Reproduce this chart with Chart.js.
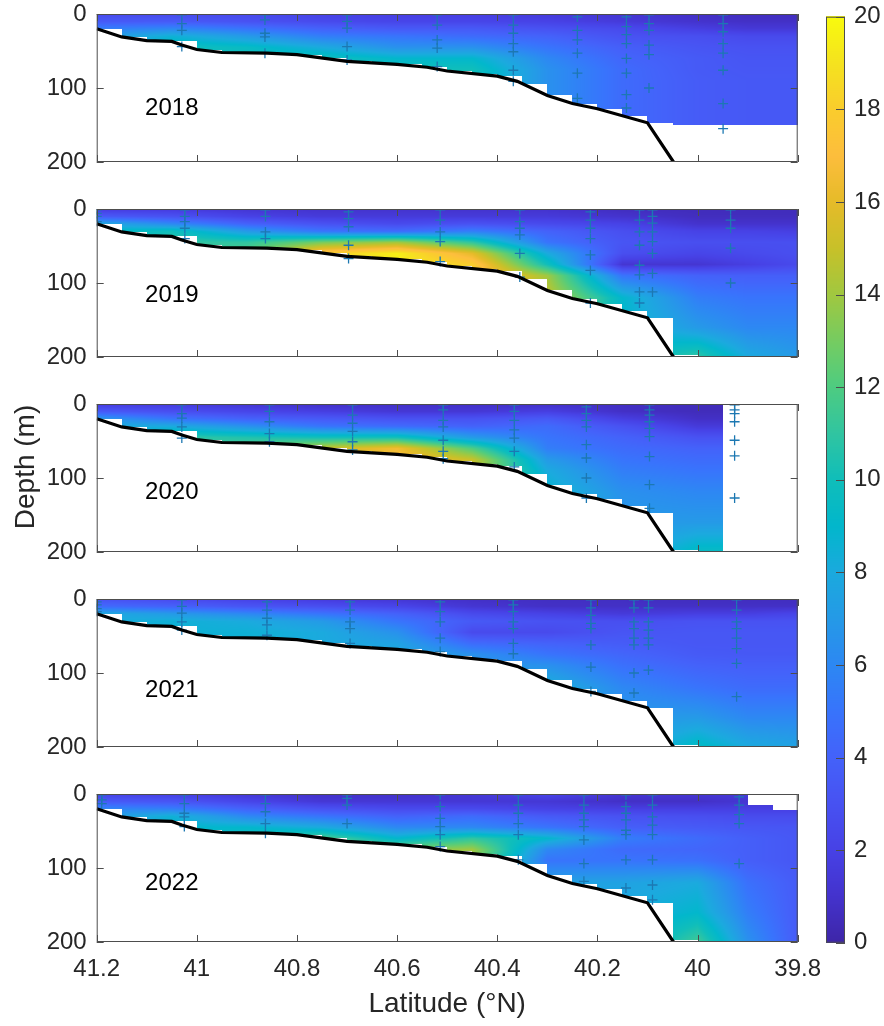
<!DOCTYPE html>
<html>
<head>
<meta charset="utf-8">
<script src="https://cdn.jsdelivr.net/npm/chart.js@4.4.1/dist/chart.umd.min.js"></script>
<style>
    html, body { margin: 0; padding: 0; background: #fff; }
    #wrap { position: relative; width: 884px; height: 1026px; overflow: hidden; font-family: "Liberation Sans", Arial, sans-serif; }
    #wrap canvas { position: absolute; left: 0; }
    #ylabel { position: absolute; left: -75px; top: 452px; width: 200px; height: 30px; line-height: 30px;
              text-align: center; font-size: 28px; color: #262626; transform: rotate(-90deg); white-space: nowrap; }
</style>
</head>
<body>
<div id="wrap">
    <canvas id="p0" width="884" height="199" style="top:-11px"></canvas>
    <canvas id="p1" width="884" height="199" style="top:184px"></canvas>
    <canvas id="p2" width="884" height="199" style="top:379px"></canvas>
    <canvas id="p3" width="884" height="199" style="top:574px"></canvas>
    <canvas id="p4" width="884" height="257" style="top:769px"></canvas>
    <canvas id="cbar" width="84" height="1033" style="left:800px;top:-7px"></canvas>
    <div id="ylabel">Depth (m)</div>
</div>
<script>
// ---- data ----
const years = ["2018", "2019", "2020", "2021", "2022"];

// gridded field: rows = depthGrid, columns = latGrid
const latGrid = [41.2, 41.05, 40.9, 40.75, 40.6, 40.45, 40.3, 40.15, 40.0, 39.9, 39.8];
const depthGrid = [0, 10, 20, 30, 45, 60, 75, 90, 120, 160, 200];

const field2018 = [
    [2.5, 2.5, 2.5, 2, 1.8, 1.8, 1.5, 1.2, 0.8, 0.6, 0.6],
    [3.5, 3.5, 3, 2.5, 2.2, 2.2, 2, 1.5, 1, 0.8, 0.8],
    [5.5, 6, 5, 4, 3.5, 3.5, 3, 2.5, 1.8, 1.4, 1.4],
    [7, 8.5, 7, 5.5, 5, 4.5, 4, 3, 2.8, 2.5, 2.5],
    [7, 10, 9.5, 8, 6.5, 6.5, 5, 3.8, 3.2, 3, 3],
    [7, 10, 10, 10, 9, 9, 6, 4.2, 3.5, 3.2, 3.2],
    [7, 10, 10, 10, 10, 10, 6.5, 4.5, 3.5, 3.3, 3.3],
    [7, 10, 10, 10, 10, 10, 6.5, 4.5, 3.6, 3.4, 3.4],
    [7, 10, 10, 10, 10, 10, 6.5, 4.5, 3.6, 3.4, 3.4],
    [7, 10, 10, 10, 10, 10, 6.5, 4.5, 3.6, 3.4, 3.4],
    [7, 10, 10, 10, 10, 10, 6.5, 4.5, 3.6, 3.4, 3.4]
];
const field2019 = [
    [1.5, 1.5, 1.2, 1, 1, 1, 1, 0.6, 0.5, 0.5, 0.5],
    [3.5, 3, 2, 1.5, 1.5, 1.5, 1.5, 1, 0.6, 0.6, 0.6],
    [8, 6, 4, 3, 2.5, 3, 2.5, 2, 1, 1, 1],
    [9, 10, 7, 5, 4.5, 5.5, 4, 2.8, 2, 2, 1.8],
    [9, 11, 11, 13, 14, 11, 5, 3.2, 2.8, 2.8, 2.8],
    [9, 11, 12, 18, 19.5, 16, 8, 2.8, 2.2, 2.5, 2.8],
    [9, 11, 12, 18, 19.5, 18, 10, 1.2, 1.2, 1.8, 2.5],
    [9, 11, 12, 18, 19.5, 18, 14, 5, 4, 3.8, 3.8],
    [9, 11, 12, 18, 19.5, 18, 15, 9, 5.5, 5, 5],
    [9, 11, 12, 18, 19.5, 18, 15, 9, 7, 6, 6],
    [9, 11, 12, 18, 19.5, 18, 15, 9, 11, 8, 7]
];
const field2020 = [
    [1.5, 1.5, 1.2, 0.8, 0.8, 0.8, 0.8, 0.7, 0.5, 0.5, 0.5],
    [3.5, 2.8, 2.2, 1.8, 1.3, 1.3, 1.8, 0.8, 0.5, 0.5, 0.5],
    [7, 5, 4, 3.5, 3, 3, 3.5, 1.8, 0.8, 0.8, 0.8],
    [8, 8, 6.5, 5, 4.5, 4, 4.5, 3, 1.5, 1.5, 1.5],
    [8, 11, 10.5, 10, 10, 7, 5, 4, 3, 3, 3],
    [8, 11, 12, 15, 16.5, 12, 5.5, 4.5, 4, 4, 4],
    [8, 11, 12, 15.5, 17, 15, 7, 5, 4.5, 4.5, 4.5],
    [8, 11, 12, 15.5, 17, 15, 8, 5.5, 5, 5, 5],
    [8, 11, 12, 15.5, 17, 15, 9, 6.5, 6, 6, 6],
    [8, 11, 12, 15.5, 17, 15, 9, 7, 7, 7, 7],
    [8, 11, 12, 15.5, 17, 15, 9, 7, 9.5, 9.5, 9.5]
];
const field2021 = [
    [3, 2.5, 2, 1.5, 1.2, 0.8, 0.7, 0.7, 0.6, 0.6, 0.6],
    [4.5, 4, 3.2, 2.8, 2.2, 1.2, 0.8, 0.8, 0.8, 0.8, 0.8],
    [8, 7, 6, 5, 4, 2.5, 2, 1.5, 1.8, 1.8, 2.2],
    [8, 8.5, 8, 7, 5, 3.5, 3, 2.8, 3, 3, 3],
    [8, 8.5, 8.5, 8, 6.5, 2.5, 2.5, 3.2, 3.3, 3.3, 3.3],
    [8, 8.5, 8.5, 8, 7.5, 4.5, 4, 3.6, 3.3, 3.3, 3.3],
    [8, 8.5, 8.5, 8, 8, 6.5, 5, 4.2, 3.5, 3.4, 3.4],
    [8, 8.5, 8.5, 8, 8, 7, 6.5, 4.8, 4, 3.8, 3.8],
    [8, 8.5, 8.5, 8, 8, 7, 8.5, 6, 5, 4.5, 4.5],
    [8, 8.5, 8.5, 8, 8, 7, 8.5, 7, 7, 6, 6],
    [8, 8.5, 8.5, 8, 8, 7, 8.5, 7, 9.5, 8, 7.5]
];
const field2022 = [
    [2, 1.8, 1.3, 0.9, 0.9, 1.3, 2.2, 1.2, 1.2, 1.5, 1.5],
    [3.5, 3.2, 2.2, 1.3, 1.3, 1.3, 1.3, 0.8, 0.8, 1.2, 1.5],
    [6, 5.5, 4, 3, 2.5, 2.5, 2, 1.8, 1.8, 1.8, 1.8],
    [7, 8.5, 6, 5, 4, 4.5, 3.5, 3, 2.8, 2.6, 2.6],
    [7, 9, 9, 8, 6, 6, 5, 3.8, 3.5, 3.3, 3.2],
    [7, 9, 10, 12, 9, 11, 9, 5.5, 4.5, 3.8, 3.3],
    [7, 9, 10, 12, 13, 14, 6, 4.5, 4.2, 3.8, 3.3],
    [7, 9, 10, 12, 13, 13.5, 5, 5, 4.8, 3.8, 3.3],
    [7, 9, 10, 12, 13, 13.5, 7.5, 7.5, 8, 4.8, 3.6],
    [7, 9, 10, 12, 13, 13.5, 7.5, 8, 9, 5.5, 3.6],
    [7, 9, 10, 12, 13, 13.5, 7.5, 8, 11.5, 6.5, 3.6]
];

// bottom topography (black line)
const bathyLat = [41.2, 41.15, 41.1, 41.05, 41.03, 41.0, 40.95, 40.86, 40.8, 40.7, 40.6, 40.54, 40.5, 40.4, 40.36, 40.3, 40.25, 40.2, 40.1, 40.048];
const bathyDepth = [20, 31, 36, 37, 42, 48, 52, 53, 55, 64, 68, 72, 77, 84, 91, 110, 121, 128, 147, 200];

// sampling stations (+ markers): latitude and sample depths
const stations2018 = [41.03, 40.864, 40.70, 40.52, 40.368, 40.24, 40.142, 40.097, 39.949];
const samples2018 = [[1, 13, 22, 44], [1, 8, 26, 31, 53], [1, 10, 19, 44, 62], [1, 15, 35, 46, 71], [1, 15, 26, 40, 51, 76, 91],
    [4, 22, 35, 53, 80, 114], [4, 17, 28, 40, 60, 80, 109, 127], [1, 13, 22, 42, 55, 100], [1, 13, 24, 40, 53, 76, 121, 155]];
const stations2019 = [41.2, 41.024, 40.863, 40.697, 40.514, 40.355, 40.214, 40.116, 40.09, 39.934];
const samples2019 = [[1, 6, 10, 17], [1, 10, 17, 26, 40], [1, 10, 31, 40], [4, 13, 24, 49, 67], [1, 15, 31, 44, 71], [1, 17, 26, 35, 60, 92],
    [4, 15, 26, 40, 62, 83, 127], [1, 15, 31, 49, 76, 89, 112, 127], [1, 10, 19, 31, 44, 60, 87, 112], [1, 15, 26, 53, 100]];
const stations2020 = [41.03, 40.855, 40.689, 40.508, 40.366, 40.222, 40.096, 39.926];
const samples2020 = [[1, 13, 19, 31, 46], [1, 10, 24, 40, 51], [1, 15, 26, 37, 51, 62], [1, 8, 22, 31, 49, 64, 74], [1, 10, 22, 35, 46, 64, 85],
    [4, 13, 22, 31, 55, 73, 100, 127], [1, 8, 15, 24, 33, 44, 71, 109, 141], [1, 8, 13, 24, 49, 70, 127]];
const stations2021 = [41.2, 41.03, 40.86, 40.694, 40.514, 40.368, 40.213, 40.127, 40.098, 39.922];
const samples2021 = [[4, 8, 13, 17], [1, 10, 19, 31, 42], [4, 15, 26, 35, 49], [4, 15, 31, 40, 60], [4, 17, 31, 53, 71], [1, 8, 17, 31, 40, 60, 74],
    [1, 12, 22, 33, 40, 62, 92, 125], [1, 12, 31, 40, 53, 62, 100, 127], [1, 12, 31, 42, 53, 62, 96], [1, 15, 31, 40, 53, 67, 87, 132]];
const stations2022 = [41.19, 41.025, 40.863, 40.70, 40.514, 40.358, 40.227, 40.143, 40.09, 39.917];
const samples2022 = [[1, 8, 13], [1, 13, 26, 31, 44], [1, 13, 24, 40, 53], [1, 6, 15, 40], [1, 17, 33, 44, 55, 71], [1, 15, 26, 40, 55, 89],
    [1, 15, 26, 35, 44, 62, 94, 118], [1, 17, 26, 35, 49, 55, 89, 127], [1, 15, 31, 42, 55, 89, 123, 143], [4, 15, 28, 40, 94]];

// extent of the gridded field in each year
const fieldDeepest = [150, 200, 200, 200, 200];
const fieldWestEdge = [39.8, 39.8, 39.95, 39.8, 39.8];
const fieldTopSteps = [[], [], [], [], [[39.9, 15], [39.85, 22]]];

const xTicks = [41.2, 41, 40.8, 40.6, 40.4, 40.2, 40, 39.8];
const yTicks = [0, 100, 200];
const cTicks = [0, 2, 4, 6, 8, 10, 12, 14, 16, 18, 20];

const FIELDS = [field2018, field2019, field2020, field2021, field2022];
const STATIONS = [stations2018, stations2019, stations2020, stations2021, stations2022];
const SAMPLES = [samples2018, samples2019, samples2020, samples2021, samples2022];

// parula colormap
const PARULA = [
    [62, 38, 168], [68, 51, 205], [71, 66, 230], [72, 82, 242], [68, 98, 250], [56, 116, 252], [45, 136, 243],
    [37, 154, 231], [27, 170, 222], [2, 183, 204], [16, 190, 186], [49, 197, 161], [78, 204, 129], [118, 204, 97],
    [161, 200, 64], [200, 193, 41], [230, 187, 41], [253, 190, 61], [250, 205, 45], [245, 227, 31], [249, 251, 14]
];
const C_MAX = 20;
const GRID_STEP = 0.05;
const TEXT_COLOR = "#262626";
const FRAME_COLOR = "#4d4d4d";
const FONT = "'Liberation Sans', Arial, sans-serif";

function parula(t) {
    t = Math.max(0, Math.min(1, t)) * (PARULA.length - 1);
    const i = Math.min(PARULA.length - 2, Math.floor(t));
    const f = t - i;
    const a = PARULA[i], b = PARULA[i + 1];
    return [a[0] + (b[0] - a[0]) * f, a[1] + (b[1] - a[1]) * f, a[2] + (b[2] - a[2]) * f];
}

function clamp01(v) { return Math.max(0, Math.min(1, v)); }

function sampleField(grid, lat, d) {
    let i = 0;
    while (i < latGrid.length - 2 && lat < latGrid[i + 1]) i++;
    let j = 0;
    while (j < depthGrid.length - 2 && d > depthGrid[j + 1]) j++;
    const tx = clamp01((latGrid[i] - lat) / (latGrid[i] - latGrid[i + 1]));
    const ty = clamp01((d - depthGrid[j]) / (depthGrid[j + 1] - depthGrid[j]));
    const top = grid[j][i] * (1 - tx) + grid[j][i + 1] * tx;
    const bot = grid[j + 1][i] * (1 - tx) + grid[j + 1][i + 1] * tx;
    return top * (1 - ty) + bot * ty;
}

function bathyAt(lat) {
    if (lat >= bathyLat[0]) return bathyDepth[0];
    for (let k = 0; k < bathyLat.length - 1; k++) {
        if (lat <= bathyLat[k] && lat >= bathyLat[k + 1]) {
            const f = (bathyLat[k] - lat) / (bathyLat[k] - bathyLat[k + 1]);
            return bathyDepth[k] + (bathyDepth[k + 1] - bathyDepth[k]) * f;
        }
    }
    return 1e9;
}

function inField(p, lat, d) {
    if (lat < fieldWestEdge[p] - 1e-9) return false;
    let top = 2;
    fieldTopSteps[p].forEach(s => { if (lat < s[0]) top = s[1]; });
    if (d < top) return false;
    const k = Math.floor((latGrid[0] - lat) / GRID_STEP + 1e-6);
    const north = latGrid[0] - k * GRID_STEP;
    return d <= Math.min(bathyAt(north), fieldDeepest[p]);
}

const fieldPlugin = {
    id: "field",
    beforeDatasetsDraw(chart, args, opts) {
        const p = opts.panel;
        const { ctx, chartArea: a, scales: { x, y } } = chart;
        const x0 = Math.round(a.left), y0 = Math.round(a.top);
        const w = Math.round(a.right) - x0, h = Math.round(a.bottom) - y0;
        const img = ctx.createImageData(w, h);
        for (let py = 0; py < h; py++) {
            const d = y.getValueForPixel(y0 + py + 0.5);
            for (let px = 0; px < w; px++) {
                const lat = x.getValueForPixel(x0 + px + 0.5);
                if (!inField(p, lat, d)) continue;
                const c = parula(sampleField(FIELDS[p], lat, d) / C_MAX);
                const k = (py * w + px) * 4;
                img.data[k] = c[0]; img.data[k + 1] = c[1]; img.data[k + 2] = c[2]; img.data[k + 3] = 255;
            }
        }
        const off = document.createElement("canvas");
        off.width = w; off.height = h;
        off.getContext("2d").putImageData(img, 0, 0);
        ctx.drawImage(off, x0, y0);
    },
    afterDraw(chart, args, opts) {
        const { ctx, chartArea: a, scales: { x, y } } = chart;
        ctx.save();
        // year label
        ctx.fillStyle = "#000";
        ctx.font = "24px " + FONT;
        ctx.textAlign = "center";
        ctx.textBaseline = "middle";
        ctx.fillText(years[opts.panel], x.getPixelForValue(opts.labelLat), y.getPixelForValue(opts.labelDepth));
        // box and inward ticks
        ctx.strokeStyle = FRAME_COLOR;
        ctx.lineWidth = 1;
        ctx.strokeRect(a.left + 0.5, a.top + 0.5, a.right - a.left - 1, a.bottom - a.top - 1);
        ctx.beginPath();
        xTicks.forEach(v => {
            const px = Math.round(x.getPixelForValue(v)) + 0.5;
            ctx.moveTo(px, a.bottom); ctx.lineTo(px, a.bottom - 7);
            ctx.moveTo(px, a.top); ctx.lineTo(px, a.top + 7);
        });
        yTicks.forEach(v => {
            const py = Math.round(y.getPixelForValue(v)) + 0.5;
            ctx.moveTo(a.left, py); ctx.lineTo(a.left + 7, py);
            ctx.moveTo(a.right, py); ctx.lineTo(a.right - 7, py);
        });
        ctx.stroke();
        ctx.restore();
    }
};

const labelDepths = [128, 117, 120, 123, 121];

function markerPoints(p) {
    const pts = [];
    STATIONS[p].forEach((lat, s) => SAMPLES[p][s].forEach(d => pts.push({ x: lat, y: d })));
    return pts;
}

function makePanel(p) {
    const last = p === years.length - 1;
    new Chart(document.getElementById("p" + p), {
        type: "scatter",
        data: {
            datasets: [
                {
                    type: "line",
                    data: bathyLat.map((lat, k) => ({ x: lat, y: bathyDepth[k] })),
                    borderColor: "#000",
                    borderWidth: 3.2,
                    pointRadius: 0,
                    tension: 0,
                    fill: false
                },
                {
                    data: markerPoints(p),
                    pointStyle: "cross",
                    pointRadius: 5,
                    borderWidth: 1.3,
                    borderColor: "#1c78b2",
                    backgroundColor: "#1c78b2"
                }
            ]
        },
        options: {
            responsive: false,
            animation: false,
            devicePixelRatio: 1,
            events: [],
            layout: { padding: { left: 0, right: 86.3, top: 25, bottom: last ? 0 : 26 } },
            plugins: {
                legend: { display: false },
                tooltip: { enabled: false },
                field: { panel: p, labelLat: 41.05, labelDepth: labelDepths[p] }
            },
            scales: {
                x: {
                    type: "linear",
                    reverse: true,
                    min: 39.8,
                    max: 41.2,
                    afterBuildTicks: s => { s.ticks = xTicks.map(v => ({ value: v })); },
                    grid: { display: false, drawTicks: false },
                    border: { display: false },
                    ticks: {
                        display: last,
                        padding: 13,
                        color: TEXT_COLOR,
                        font: { family: FONT, size: 24 },
                        maxRotation: 0,
                        callback: v => String(v)
                    },
                    title: {
                        display: last,
                        text: "Latitude (°N)",
                        color: TEXT_COLOR,
                        font: { family: FONT, size: 28 },
                        padding: { top: 0, bottom: 5 }
                    },
                    afterFit: s => { s.height = last ? 84 : 0; }
                },
                y: {
                    type: "linear",
                    reverse: true,
                    min: 0,
                    max: 200,
                    afterBuildTicks: s => { s.ticks = yTicks.map(v => ({ value: v })); },
                    grid: { display: false, drawTicks: false },
                    border: { display: false },
                    ticks: {
                        padding: 10,
                        color: TEXT_COLOR,
                        font: { family: FONT, size: 24 },
                        callback: v => String(v)
                    },
                    afterFit: s => { s.width = 96.7; }
                }
            }
        },
        plugins: [fieldPlugin]
    });
}

const colorbarPlugin = {
    id: "colorbar",
    beforeDatasetsDraw(chart) {
        const { ctx, chartArea: a, scales: { y } } = chart;
        ctx.save();
        for (let py = Math.floor(a.top); py < Math.ceil(a.bottom); py++) {
            const c = parula(y.getValueForPixel(py + 0.5) / C_MAX);
            ctx.fillStyle = `rgb(${c[0] | 0},${c[1] | 0},${c[2] | 0})`;
            ctx.fillRect(a.left, py, a.right - a.left, 1);
        }
        ctx.strokeStyle = FRAME_COLOR;
        ctx.lineWidth = 1;
        ctx.strokeRect(a.left + 0.5, a.top + 0.5, a.right - a.left - 1, a.bottom - a.top - 1);
        ctx.beginPath();
        cTicks.forEach(v => {
            const py = Math.round(y.getPixelForValue(v)) + 0.5;
            ctx.moveTo(a.right, py); ctx.lineTo(a.right - 9, py);
        });
        ctx.stroke();
        ctx.restore();
    }
};

function makeColorbar() {
    new Chart(document.getElementById("cbar"), {
        type: "scatter",
        data: { datasets: [] },
        options: {
            responsive: false,
            animation: false,
            devicePixelRatio: 1,
            events: [],
            layout: { padding: { left: 26, right: 0, top: 23.7, bottom: 83.3 } },
            plugins: { legend: { display: false }, tooltip: { enabled: false } },
            scales: {
                x: { display: false, min: 0, max: 1 },
                y: {
                    position: "right",
                    min: 0,
                    max: C_MAX,
                    afterBuildTicks: s => { s.ticks = cTicks.map(v => ({ value: v })); },
                    grid: { display: false, drawTicks: false },
                    border: { display: false },
                    ticks: {
                        padding: 9,
                        color: TEXT_COLOR,
                        font: { family: FONT, size: 24 },
                        callback: v => String(v)
                    },
                    afterFit: s => { s.width = 39; }
                }
            }
        },
        plugins: [colorbarPlugin]
    });
}

document.addEventListener("DOMContentLoaded", () => {
    years.forEach((y, p) => makePanel(p));
    makeColorbar();
});
</script>
</body>
</html>
